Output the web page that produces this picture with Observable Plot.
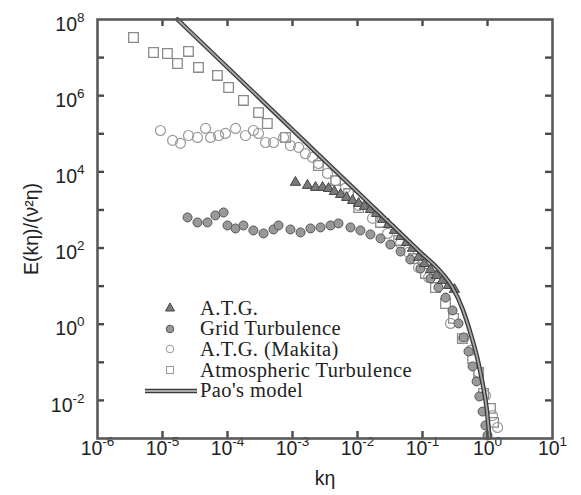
<!DOCTYPE html>
<html><head><meta charset="utf-8">
<script src="https://cdn.jsdelivr.net/npm/d3@7"></script>
<script src="https://cdn.jsdelivr.net/npm/@observablehq/plot@0.6"></script>
<style>
body{margin:0;background:#fff;}
#wrap{position:relative;width:581px;height:495px;}
#legend{position:absolute;left:140px;top:298px;font-family:"Liberation Serif","Times New Roman",serif;font-size:20.5px;letter-spacing:0.4px;color:#222;}
#legend .row{display:flex;align-items:center;height:20.6px;white-space:nowrap;}
#legend svg{width:60px;height:20px;flex:none;}
</style></head><body><div id="wrap"></div>
<script>
// A.T.G. (triangles)
const atgK = [1.11e-3,1.70e-3,2.26e-3,2.9e-3,3.58e-3,4.4e-3,5.5e-3,6.8e-3,8.4e-3,1.04e-2,1.28e-2,1.58e-2,1.96e-2,2.43e-2,3.0e-2,3.7e-2,4.6e-2,5.7e-2,7.0e-2,8.7e-2,0.107,0.133,0.164,0.203,0.251,0.31];
const atgE = [5.3e3,4.4e3,3.9e3,3.9e3,3.66e3,3.06e3,2.55e3,2.13e3,1.77e3,1.48e3,1.24e3,1.03e3,809,564,416,290,201,140,98,57,39,27,19.1,14.1,10.4,8.2];
// Grid Turbulence (filled circles)
const gridK = [2.43e-5,3.45e-5,4.92e-5,6.5e-5,8.7e-5,1.0e-4,1.33e-4,1.76e-4,2.5e-4,3.58e-4,5.1e-4,6.1e-4,9.3e-4,1.33e-3,1.89e-3,2.7e-3,3.85e-3,5.1e-3,7.8e-3,1.11e-2,1.58e-2,2.26e-2,3.2e-2,4.6e-2,6.5e-2,9.3e-2,0.133,0.176,0.226,0.29,0.358,0.43,0.51,0.59,0.68,0.75,0.84,0.93,1.0];
const gridE = [636,470,470,718,859,392,327,392,290,242,308,392,308,257,327,348,392,443,348,290,228,179,124,81,50,29,15.9,9.2,5.0,2.3,1.05,0.45,0.193,0.078,0.0315,0.0127,0.0051,0.0022,0.0012];
// A.T.G. (Makita) (open circles)
const makK = [9.3e-6,1.43e-5,1.89e-5,2.51e-5,3.45e-5,4.6e-5,5.5e-5,7.3e-5,9.3e-5,1.33e-4,1.89e-4,2.5e-4,3.0e-4,3.85e-4,5.1e-4,7.3e-4,9.3e-4,1.24e-3,1.58e-3,2.03e-3,2.5e-3,3.45e-3,4.6e-3,6.5e-3,1.04e-2,1.70e-2,2.9e-2,4.6e-2,6.1e-2,8.7e-2,0.124,0.27,0.43,0.55,0.73,0.93,1.19,1.43];
const makE = [1.22e5,6.7e4,5.6e4,9.0e4,8.0e4,1.38e5,8.0e4,9.0e4,1.02e5,1.38e5,9.0e4,1.22e5,1.02e5,5.9e4,5.9e4,8.0e4,4.9e4,4.4e4,3.0e4,2.4e4,1.66e4,9.1e3,5.9e3,3.7e3,1.31e3,600,242,132,77,31,16.9,1.05,0.42,0.205,0.054,0.0135,0.004,0.00195];
// Atmospheric Turbulence (open squares)
const atmK = [3.58e-6,7.28e-6,1.19e-5,1.70e-5,2.51e-5,3.58e-5,7.0e-5,1.04e-4,1.76e-4,3.0e-4,4.1e-4,7.8e-4,2.5e-3,4.6e-3,7.3e-3,1.04e-2,2.26e-2,4.3e-2,7.3e-2,0.111,0.158,0.226,0.30,0.41,0.59,0.73,0.87,1.11,1.24];
const atmE = [3.37e7,1.36e7,1.28e7,7.0e6,1.45e7,5.5e6,3.39e6,1.64e6,7.5e5,3.6e5,1.86e5,8.0e4,1.47e4,5.9e3,2.7e3,1.16e3,470,158,53,21.5,9.2,3.5,1.42,0.42,0.126,0.054,0.0153,0.0062,0.00265];
// Pao's model (line)
const paoK = [1.70e-5,9.3e-2,0.189,0.29,0.41,0.55,0.70,0.84,0.97,1.07];
const paoE = [1e8,77,24.3,9.2,2.6,0.57,0.126,0.028,0.0062,0.00107];
// axes
const xTickExp = [-6,-5,-4,-3,-2,-1,0,1];
const xInnerExp = [-5,-4,-3,-2,-1,0];
const yTickExp = [-2,-1,0,1,2,3,4,5,6,7];
const yLabelExp = [-2,0,2,4,6,8];
const xTitle = "kη";
const yTitle = "E(kη)/(ν²η)";
const legendItems = ["A.T.G.","Grid Turbulence","A.T.G. (Makita)","Atmospheric Turbulence","Pao's model"];

const W=581,H=495,ML=97,MR=29,MT=19,MB=57,TICK=7;
const xDom=[1e-6,10], yDom=[1e-3,1e8];
const zip = (k,e) => k.map((v,i)=>({k:v,e:e[i]}));
const atg = zip(atgK,atgE), grid = zip(gridK,gridE), mak = zip(makK,makE), atm = zip(atmK,atmE), pao = zip(paoK,paoE);
const pw = e => Math.pow(10,e);
const fmt = d => `10^${Math.round(Math.log10(d))}`;
const xT = xInnerExp.map(pw), yT = yTickExp.map(pw);
const tk = {stroke:"#4a4a4a",strokeWidth:2.4};

const chart = Plot.plot({
  width:W,height:H,marginLeft:ML,marginRight:MR,marginTop:MT,marginBottom:MB,
  x:{type:"log",domain:xDom},
  y:{type:"log",domain:yDom},
  style:{fontFamily:"'Liberation Sans', Arial, sans-serif",fontSize:"19.5px",color:"#222",background:"#fff",overflow:"visible"},
  marks:[
    Plot.dot(atm,{x:"k",y:"e",symbol:"square",r:5.4,stroke:"#8a8a8a",strokeWidth:1.3,fill:"none"}),
    Plot.dot(mak,{x:"k",y:"e",symbol:"circle",r:5,stroke:"#9a9a9a",strokeWidth:1.2,fill:"none"}),
    Plot.dot(grid,{x:"k",y:"e",symbol:"circle",r:4.5,stroke:"#555",strokeWidth:1,fill:"#999"}),
    Plot.dot(atg,{x:"k",y:"e",symbol:"triangle",r:3.8,stroke:"#444",strokeWidth:1,fill:"#7a7a7a"}),
    Plot.line(pao,{x:"k",y:"e",stroke:"#3a3a3a",strokeWidth:4.5,curve:"monotone-x"}),
    Plot.line(pao,{x:"k",y:"e",stroke:"#a8a8a8",strokeWidth:1.8,curve:"monotone-x"}),
    Plot.tickX(xT,{x:d=>d,insetTop:H-MT-MB-TICK,...tk}),
    Plot.tickX(xT,{x:d=>d,insetBottom:H-MT-MB-TICK,...tk}),
    Plot.tickY(yT,{y:d=>d,insetRight:W-ML-MR-TICK,...tk}),
    Plot.tickY(yT,{y:d=>d,insetLeft:W-ML-MR-TICK,...tk}),
    Plot.axisX(xTickExp.map(pw),{anchor:"bottom",tickSize:0,tickPadding:3,tickFormat:fmt,label:xTitle,labelAnchor:"center",labelOffset:46,labelArrow:"none"}),
    Plot.axisY(yLabelExp.map(pw),{anchor:"left",tickSize:0,tickPadding:13,dy:5,tickFormat:fmt,label:yTitle,labelAnchor:"center",labelOffset:73,labelArrow:"none"}),
    Plot.frame({stroke:"#5a5a5a",strokeWidth:2.6})
  ]
});
const ns = "http://www.w3.org/2000/svg";
chart.querySelectorAll("text").forEach(t=>{
  const m = /^10\^(-?\d+)$/.exec(t.textContent);
  if(!m) return;
  t.textContent="";
  const a=document.createElementNS(ns,"tspan"); a.textContent="10"; t.appendChild(a);
  const b=document.createElementNS(ns,"tspan"); b.textContent=m[1]; b.setAttribute("dy","-9"); b.setAttribute("font-size","13.5"); t.appendChild(b);
});
const wrap=document.getElementById("wrap");
wrap.appendChild(chart);

// legend overlay
const leg=document.createElement("div"); leg.id="legend";
const syms=[
 '<polygon points="30,5 34.5,13 25.5,13" fill="#7a7a7a" stroke="#444" stroke-width="1"/>',
 '<circle cx="30" cy="10" r="3.8" fill="#999" stroke="#555" stroke-width="1"/>',
 '<circle cx="30" cy="10" r="3.8" fill="none" stroke="#9a9a9a" stroke-width="1"/>',
 '<rect x="26.5" y="6.5" width="7" height="7" fill="none" stroke="#999" stroke-width="1"/>',
 '<line x1="5" y1="10" x2="57" y2="10" stroke="#3a3a3a" stroke-width="4.5"/><line x1="5" y1="10" x2="57" y2="10" stroke="#a8a8a8" stroke-width="1.8"/>'
];
legendItems.forEach((name,i)=>{
  const r=document.createElement("div"); r.className="row";
  r.innerHTML=`<svg viewBox="0 0 60 20">${syms[i]}</svg><span>${name}</span>`;
  leg.appendChild(r);
});
wrap.appendChild(leg);
</script></body></html>
